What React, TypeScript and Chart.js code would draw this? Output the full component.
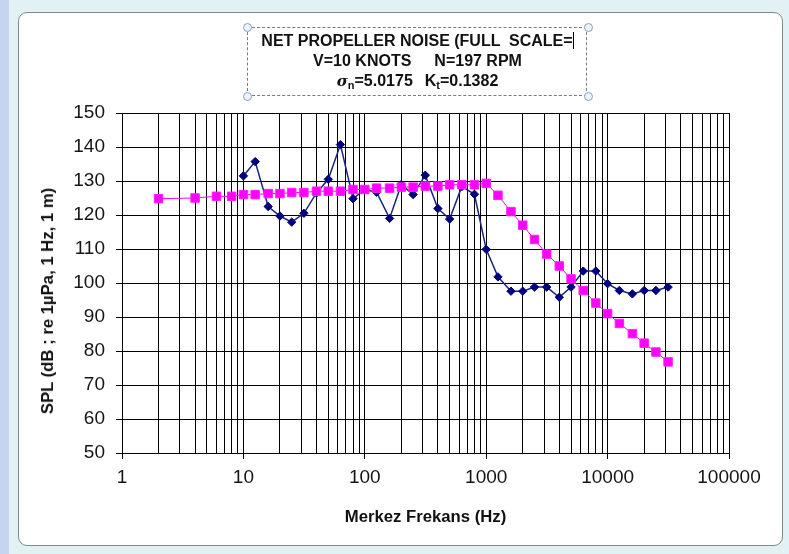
import React, { useEffect, useRef } from "react";
import { Chart, registerables } from "chart.js";

Chart.register(...registerables);

// 1/3-octave band centre frequencies (Hz)
const magentaFreq = [
  2, 4, 6, 8, 10, 12.5, 16, 20, 25, 31.5, 40, 50, 63, 80, 100, 125, 160, 200, 250, 315,
  400, 500, 630, 800, 1000, 1250, 1600, 2000, 2500, 3150, 4000, 5000, 6300, 8000, 10000,
  12500, 16000, 20000, 25000, 31500,
];
const magentaSPL = [
  124.8, 125, 125.5, 125.5, 126, 126, 126.3, 126.3, 126.6, 126.6, 127, 127, 127, 127.5, 127.5,
  127.9, 127.9, 128.2, 128.2, 128.5, 128.5, 128.9, 128.9, 128.9, 129.3, 125.8, 121, 117, 112.8,
  108.5, 105, 101.2, 97.8, 94.1, 91, 88.1, 85.1, 82.3, 79.7, 76.8,
];

const blueFreq = [
  10, 12.5, 16, 20, 25, 31.5, 40, 50, 63, 80, 100, 125, 160, 200, 250, 315, 400, 500, 630, 800,
  1000, 1250, 1600, 2000, 2500, 3150, 4000, 5000, 6300, 8000, 10000, 12500, 16000, 20000, 25000,
  31500,
];
const blueSPL = [
  131.5, 135.7, 122.5, 119.7, 117.9, 120.5, 126.5, 130.5, 140.7, 124.8, 127.5, 126.7, 119, 129,
  126, 131.7, 121.9, 118.8, 128.4, 126.1, 109.9, 101.8, 97.6, 97.6, 98.8, 98.8, 95.8, 98.8, 103.5,
  103.5, 99.8, 97.8, 96.8, 97.8, 97.8, 98.8,
];

const xTickLabels = [1, 10, 100, 1000, 10000, 100000];
const minorMultipliers = [1, 2, 3, 4, 5, 6, 7, 8, 9];
const yMin = 50;
const yMax = 150;
const yStep = 10;

const FONT = '"Liberation Sans", Arial, Helvetica, sans-serif';

const isMajor = (v: number) => xTickLabels.some((t) => Math.abs(v - t) < 1e-6 * t);

export default function App() {
  const ref = useRef<HTMLCanvasElement | null>(null);

  useEffect(() => {
    if (!ref.current) return;
    const gridValues: number[] = [];
    for (let i = 0; i < xTickLabels.length - 1; i++) {
      for (const m of minorMultipliers) gridValues.push(xTickLabels[i] * m);
    }
    gridValues.push(xTickLabels[xTickLabels.length - 1]);

    const chart = new Chart(ref.current, {
      type: "line",
      data: {
        datasets: [
          {
            label: "Magenta",
            data: magentaFreq.map((f, i) => ({ x: f, y: magentaSPL[i] })),
            borderColor: "#ff00ff",
            backgroundColor: "#ff00ff",
            borderWidth: 1,
            pointStyle: "rect",
            pointRadius: 6,
            pointBorderWidth: 1,
            pointBorderColor: "#ff20ff",
            pointBackgroundColor: "#ff00ff",
            order: 0,
          },
          {
            label: "Blue",
            data: blueFreq.map((f, i) => ({ x: f, y: blueSPL[i] })),
            borderColor: "#1a237e",
            backgroundColor: "#000080",
            borderWidth: 1.5,
            pointStyle: "rectRot",
            pointRadius: 4.2,
            pointBorderWidth: 1,
            pointBorderColor: "#000070",
            pointBackgroundColor: "#000080",
            order: 1,
          },
        ],
      },
      options: {
        animation: false,
        responsive: false,
        devicePixelRatio: 1,
        events: [],
        layout: { padding: { top: 113, right: 60, left: 0, bottom: 0 } },
        plugins: {
          legend: { display: false },
          tooltip: { enabled: false },
          title: { display: false },
        },
        scales: {
          x: {
            type: "logarithmic",
            min: 1,
            max: 100000,
            afterBuildTicks: (scale: any) => {
              scale.ticks = gridValues.map((v) => ({ value: v, major: isMajor(v) }));
            },
            afterFit: (scale: any) => {
              scale.height = 101;
            },
            grid: {
              color: "#000",
              lineWidth: 1,
              tickLength: 6,
              tickColor: (c: any) => (c.tick && isMajor(c.tick.value) ? "#000" : "rgba(0,0,0,0)"),
            },
            border: { color: "#000", width: 1 },
            ticks: {
              autoSkip: false,
              maxRotation: 0,
              minRotation: 0,
              padding: 7,
              color: "#151515",
              font: { family: FONT, size: 19 },
              callback: (v: any) => (isMajor(Number(v)) ? String(Number(v)) : ""),
            },
            title: {
              display: true,
              text: "Merkez Frekans (Hz)",
              color: "#111",
              font: { family: FONT, size: 16.7, weight: "bold" },
              padding: { top: 0, bottom: 27 },
            },
          },
          y: {
            type: "linear",
            min: yMin,
            max: yMax,
            afterFit: (scale: any) => {
              scale.width = 122;
            },
            grid: { color: "#000", lineWidth: 1, tickLength: 6, tickColor: "#000" },
            border: { color: "#000", width: 1 },
            ticks: {
              stepSize: yStep,
              padding: 11,
              color: "#151515",
              font: { family: FONT, size: 19 },
            },
          },
        },
      },
    } as any);
    return () => chart.destroy();
  }, []);

  const handle = (left: number, top: number): React.CSSProperties => ({
    position: "absolute",
    left: left - 4,
    top: top - 4,
    width: 7,
    height: 7,
    borderRadius: "50%",
    border: "1px solid #88a2bf",
    background: "#eef3f9",
  });

  return (
    <div
      style={{
        position: "absolute",
        left: 0,
        top: 0,
        width: 789,
        height: 554,
        overflow: "hidden",
        background: "#e2f2f4",
        fontFamily: FONT,
      }}
    >
      <div
        style={{
          position: "absolute",
          left: 0,
          top: 0,
          width: 9,
          height: 554,
          background: "#c5d4ef",
        }}
      />
      <div
        style={{
          position: "absolute",
          left: 18,
          top: 12,
          width: 763,
          height: 532,
          background: "#ffffff",
          border: "1px solid #7f8a8a",
          borderRadius: 9,
        }}
      />
      <canvas
        ref={ref}
        width={789}
        height={554}
        style={{ position: "absolute", left: 0, top: 0, width: 789, height: 554 }}
      />
      {/* title box */}
      <div
        style={{
          position: "absolute",
          left: 247,
          top: 27,
          width: 340,
          height: 69,
          border: "1px dashed #7a7a7a",
          boxSizing: "border-box",
        }}
      />
      <div
        style={{
          position: "absolute",
          left: 247,
          top: 31,
          width: 341,
          textAlign: "center",
          fontWeight: "bold",
          fontSize: 16,
          lineHeight: "20px",
          color: "#111",
          whiteSpace: "pre",
        }}
      >
        <div>
          NET PROPELLER NOISE (FULL  SCALE=
          <span
            style={{
              display: "inline-block",
              width: 0,
              height: 17,
              borderLeft: "1.5px solid #000",
              verticalAlign: "-3px",
            }}
          />
        </div>
        <div>
          V=10 KNOTS<span style={{ display: "inline-block", width: 23 }} />N=197 RPM
        </div>
        <div>
          <span style={{ fontStyle: "italic", fontFamily: '"DejaVu Serif", serif', fontSize: 15 }}>σ</span>
          <sub style={{ fontSize: 11, verticalAlign: "-3px" }}>n</sub>
          =5.0175<span style={{ display: "inline-block", width: 12 }} />K
          <sub style={{ fontSize: 11, verticalAlign: "-3px" }}>t</sub>=0.1382
        </div>
      </div>
      <div style={handle(247, 27)} />
      <div style={handle(588, 27)} />
      <div style={handle(247, 96)} />
      <div style={handle(588, 96)} />
      {/* y axis title */}
      <div
        style={{
          position: "absolute",
          left: 48,
          top: 301,
          transform: "translate(-50%, -50%) rotate(-90deg)",
          whiteSpace: "nowrap",
          fontWeight: "bold",
          fontSize: 16.7,
          color: "#111",
        }}
      >
        SPL (dB ; re 1µPa, 1 Hz, 1 m)
      </div>
    </div>
  );
}
